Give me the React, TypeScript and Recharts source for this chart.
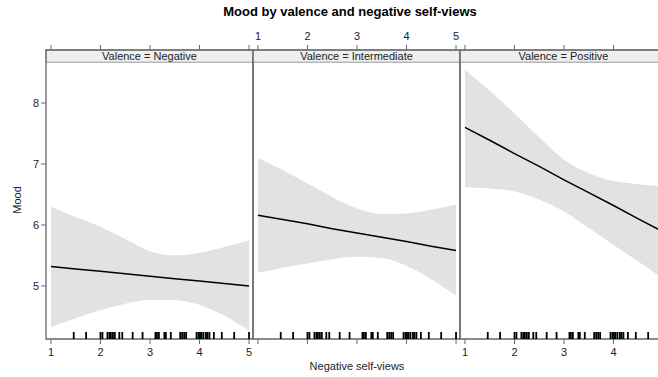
import React from "react";
import {
  ComposedChart,
  Area,
  Line,
  Scatter,
  XAxis,
  YAxis,
  ReferenceArea,
} from "recharts";

// evaluation grid for the fitted line and its confidence band
const xGrid = [1, 1.5, 2, 2.5, 3, 3.5, 4, 4.5, 5];

const negativeFit = [5.32, 5.28, 5.24, 5.2, 5.16, 5.12, 5.08, 5.04, 5.0];
const negativeUpper = [6.3, 6.13, 5.97, 5.77, 5.57, 5.5, 5.54, 5.64, 5.75];
const negativeLower = [4.33, 4.47, 4.6, 4.71, 4.77, 4.77, 4.69, 4.51, 4.27];

const intermediateFit = [6.16, 6.09, 6.02, 5.94, 5.87, 5.8, 5.73, 5.65, 5.58];
const intermediateUpper = [7.1, 6.9, 6.68, 6.46, 6.27, 6.18, 6.19, 6.25, 6.33];
const intermediateLower = [5.22, 5.3, 5.37, 5.44, 5.48, 5.46, 5.33, 5.11, 4.84];

const positiveFit = [7.6, 7.39, 7.17, 6.96, 6.74, 6.53, 6.32, 6.1, 5.89];
const positiveUpper = [8.54, 8.2, 7.83, 7.44, 7.07, 6.85, 6.72, 6.67, 6.63];
const positiveLower = [6.62, 6.6, 6.55, 6.42, 6.22, 5.95, 5.67, 5.4, 5.12];

// observed negative self-view scores (rug)
const rugValues = [
  1.46, 1.71, 2.0, 2.04, 2.14, 2.18, 2.21, 2.25, 2.29, 2.38, 2.44, 2.65, 2.85,
  3.11, 3.14, 3.18, 3.29, 3.32, 3.42, 3.61, 3.65, 3.69, 3.73, 3.94, 3.98, 4.01,
  4.04, 4.08, 4.13, 4.16, 4.2, 4.29, 4.45, 4.7, 5.0,
];

const xTicks = [1, 2, 3, 4, 5];
const yTicks = [5, 6, 7, 8];

const X_DOMAIN: [number, number] = [0.9, 5.08];
const Y_MIN = 4.13;
const STRIP_BOTTOM = 8.67;
const Y_MAX = 8.87;

const FONT = "'Liberation Sans', Arial, sans-serif";

const panels = [
  {
    label: "Valence = Negative",
    fit: negativeFit,
    upper: negativeUpper,
    lower: negativeLower,
    left: 0,
    topLabels: false,
    bottomLabels: true,
    showY: true,
  },
  {
    label: "Valence = Intermediate",
    fit: intermediateFit,
    upper: intermediateUpper,
    lower: intermediateLower,
    left: 243,
    topLabels: true,
    bottomLabels: false,
    showY: false,
  },
  {
    label: "Valence = Positive",
    fit: positiveFit,
    upper: positiveUpper,
    lower: positiveLower,
    left: 450,
    topLabels: false,
    bottomLabels: true,
    showY: false,
  },
];

const rugData = rugValues.map((x) => ({ x, rug: Y_MIN }));

const RugMark = (props: any) => {
  const { cx, cy } = props;
  if (cx == null || cy == null) return null;
  return <line x1={cx} x2={cx} y1={cy - 7} y2={cy} stroke="#000" strokeWidth={1.8} />;
};

// offset = left of this chart on the page, so labels past the crop are dropped
const makeTick = (show: boolean, dy: number, offset: number) => (props: any) => {
  const { x, y, payload } = props;
  if (!show || x + offset > 652) return <g />;
  return (
    <text x={x} y={y} dy={dy} textAnchor="middle" fontSize={11} fill="#222">
      {payload.value}
    </text>
  );
};

function Panel({ p }: { p: (typeof panels)[number] }) {
  const data = xGrid.map((x, i) => ({
    x,
    band: [p.lower[i], p.upper[i]],
    fit: p.fit[i],
  }));
  const width = p.showY ? 263 : 227;

  return (
    <div style={{ position: "absolute", left: p.left, top: 0 }}>
      <ComposedChart
        width={width}
        height={377}
        data={data}
        margin={{ top: 30, right: 10, bottom: 18, left: p.showY ? 0 : 10 }}
      >
        <XAxis
          dataKey="x"
          type="number"
          domain={X_DOMAIN}
          ticks={xTicks}
          allowDataOverflow
          height={20}
          axisLine={false}
          tickSize={5}
          tickLine={{ stroke: "#666" }}
          tick={makeTick(p.bottomLabels, 10, p.left)}
        />
        <XAxis
          xAxisId="top"
          dataKey="x"
          type="number"
          orientation="top"
          domain={X_DOMAIN}
          ticks={xTicks}
          allowDataOverflow
          height={20}
          axisLine={false}
          tickSize={5}
          tickLine={{ stroke: "#666" }}
          tick={makeTick(p.topLabels, -3, p.left)}
        />
        <YAxis
          type="number"
          domain={[Y_MIN, Y_MAX]}
          ticks={yTicks}
          allowDataOverflow
          hide={!p.showY}
          width={46}
          axisLine={false}
          tickSize={5}
          tickLine={{ stroke: "#666" }}
          tick={{ fontSize: 11, fill: "#222" }}
        />
        <Area
          dataKey="band"
          type="monotone"
          fill="#e2e2e2"
          fillOpacity={1}
          stroke="none"
          isAnimationActive={false}
        />
        <Line
          dataKey="fit"
          type="linear"
          stroke="#000"
          strokeWidth={1.5}
          dot={false}
          isAnimationActive={false}
        />
        <Scatter
          data={rugData}
          dataKey="rug"
          shape={<RugMark />}
          isAnimationActive={false}
        />
        <ReferenceArea
          x1={X_DOMAIN[0]}
          x2={X_DOMAIN[1]}
          y1={STRIP_BOTTOM}
          y2={Y_MAX}
          fill="#efefef"
          fillOpacity={1}
          stroke="#999"
          label={{ value: p.label, position: "center", fontSize: 11, fill: "#222" }}
        />
        <ReferenceArea
          x1={X_DOMAIN[0]}
          x2={X_DOMAIN[1]}
          y1={Y_MIN}
          y2={Y_MAX}
          fill="none"
          stroke="#666"
          strokeWidth={1.3}
        />
      </ComposedChart>
    </div>
  );
}

export default function App() {
  return (
    <div
      style={{
        position: "absolute",
        left: 0,
        top: 0,
        width: 658,
        height: 377,
        overflow: "hidden",
        background: "#fff",
        fontFamily: FONT,
      }}
    >
      {panels.map((p) => (
        <Panel key={p.label} p={p} />
      ))}
      <div
        style={{
          position: "absolute",
          top: 4,
          left: 0,
          width: 700,
          textAlign: "center",
          fontSize: 13,
          fontWeight: "bold",
          color: "#000",
        }}
      >
        Mood by valence and negative self-views
      </div>
      <div
        style={{
          position: "absolute",
          top: 360,
          left: 0,
          width: 714,
          textAlign: "center",
          fontSize: 11,
          color: "#222",
        }}
      >
        Negative self-views
      </div>
      <div
        style={{
          position: "absolute",
          left: 17,
          top: 200,
          transform: "translate(-50%, -50%) rotate(-90deg)",
          fontSize: 11,
          color: "#222",
          whiteSpace: "nowrap",
        }}
      >
        Mood
      </div>
    </div>
  );
}
